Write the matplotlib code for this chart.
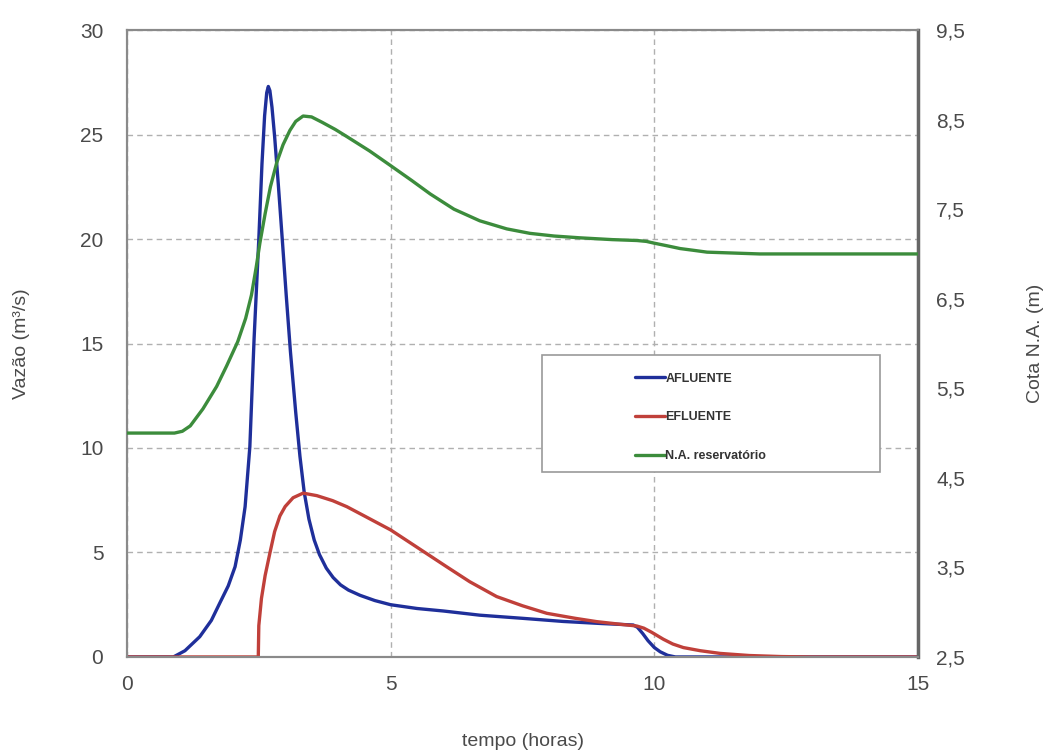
import matplotlib.pyplot as plt
from matplotlib.patches import Rectangle

plt.rcParams['font.family'] = ['Liberation Sans', 'DejaVu Sans']

# AFLUENTE (m3/s)
t_afl = [0, 0.88, 1.1, 1.38, 1.6, 1.76, 1.92, 2.05, 2.15, 2.24, 2.33, 2.41, 2.50, 2.56,
         2.61, 2.65, 2.68, 2.71, 2.75, 2.8, 2.87, 2.95, 3.02, 3.1, 3.2, 3.28, 3.36,
         3.45, 3.55, 3.65, 3.78, 3.91, 4.05, 4.2, 4.42, 4.7, 5.0, 5.5, 6.0,
         6.69, 7.5, 8.27, 9.0, 9.6, 9.68, 9.78, 9.88, 10.0, 10.11, 10.25, 10.4, 15]
q_afl = [0, 0, 0.3, 0.97, 1.75, 2.58, 3.4, 4.32, 5.6, 7.19, 10.06, 15.2, 20.0, 23.6,
         25.9, 27.0, 27.3, 27.1, 26.3, 24.9, 22.6, 19.8, 17.3, 14.6, 11.7, 9.6, 7.9,
         6.6, 5.6, 4.9, 4.25, 3.8, 3.45, 3.2, 2.95, 2.7, 2.5, 2.32, 2.2,
         2.0, 1.85, 1.7, 1.6, 1.53, 1.42, 1.12, 0.78, 0.45, 0.25, 0.08, 0, 0]

# EFLUENTE (m3/s)
t_efl = [0, 2.49, 2.5, 2.55, 2.62, 2.71, 2.8, 2.9, 3.0, 3.15, 3.34, 3.6, 3.9, 4.17,
         4.5, 5.0, 5.5, 6.06, 6.5, 7.01, 7.5, 7.96, 8.5, 8.91, 9.3, 9.67, 9.8, 9.95,
         10.17, 10.35, 10.55, 10.87, 11.25, 11.8, 12.4, 13, 15]
q_efl = [0, 0, 1.5, 2.8, 3.9, 4.97, 6.0, 6.75, 7.2, 7.62, 7.84, 7.72, 7.48, 7.19,
         6.75, 6.08, 5.25, 4.32, 3.6, 2.89, 2.45, 2.09, 1.85, 1.69, 1.58, 1.48, 1.38, 1.18,
         0.85, 0.62, 0.45, 0.3, 0.17, 0.07, 0.02, 0, 0]

# N.A. reservatorio (m)
t_na = [0, 0.9, 1.05, 1.2, 1.44, 1.7, 1.89, 2.1, 2.25, 2.36, 2.45, 2.52, 2.62, 2.72,
        2.84, 2.96, 3.09, 3.2, 3.34, 3.5, 3.7, 3.95, 4.17, 4.6, 4.99, 5.4, 5.75, 6.2,
        6.69, 7.2, 7.64, 8.1, 8.59, 9.2, 9.67, 9.85, 10.0, 10.25, 10.49, 10.75, 11.0,
        11.5, 12.0, 15]
na = [5.0, 5.0, 5.02, 5.08, 5.27, 5.52, 5.75, 6.02, 6.28, 6.54, 6.85, 7.12, 7.45, 7.75,
      8.02, 8.22, 8.38, 8.48, 8.54, 8.53, 8.47, 8.39, 8.31, 8.15, 7.99, 7.82, 7.67, 7.5,
      7.37, 7.28, 7.23, 7.2, 7.18, 7.16, 7.15, 7.14, 7.12, 7.09, 7.06, 7.04, 7.02,
      7.01, 7.0, 7.0]

x_ticks = [0, 5, 10, 15]
y_ticks = [0, 5, 10, 15, 20, 25, 30]
y2_ticks = [2.5, 3.5, 4.5, 5.5, 6.5, 7.5, 8.5, 9.5]

c_afl = '#1f2f9a'
c_efl = '#c0403a'
c_na = '#3c8c3c'
txt = '#4a4a4a'

fig = plt.figure(figsize=(10.45, 7.51), dpi=100)
ax = fig.add_axes([0.1215, 0.1252, 0.757, 0.8348])
ax2 = ax.twinx()

kw = dict(lw=2.4, solid_joinstyle='round', solid_capstyle='round', zorder=3)
ax.plot(t_afl, q_afl, color=c_afl, label='AFLUENTE', **kw)
ax.plot(t_efl, q_efl, color=c_efl, label='EFLUENTE', **kw)
ax2.plot(t_na, na, color=c_na, label='N.A. reservatório', **kw)

ax.set_xlim(0, 15)
ax.set_ylim(0, 30)
ax2.set_ylim(2.5, 9.5)
ax.set_xticks(x_ticks)
ax.set_yticks(y_ticks)
ax2.set_yticks(y2_ticks)
ax2.set_yticklabels([str(v).replace('.', ',') for v in y2_ticks])

ax.grid(True, color='#b0b0b0', ls=(0, (4, 3)), lw=1)
ax.tick_params(axis='x', length=0, pad=13, labelsize=15, labelcolor=txt)
ax.tick_params(axis='y', length=0, pad=17, labelsize=15, labelcolor=txt)
ax2.tick_params(axis='y', length=0, pad=13, labelsize=15, labelcolor=txt)

for a in (ax, ax2):
    for s in a.spines.values():
        s.set_color('#8a8a8a')
        s.set_linewidth(1.5)
ax2.spines['right'].set_color('#666666')
ax2.spines['right'].set_linewidth(2.5)

ax.set_xlabel('tempo (horas)', fontsize=14, color=txt, labelpad=28)
ax.set_ylabel('Vazão (m³/s)', fontsize=14, color=txt, labelpad=36)
ax2.set_ylabel('Cota N.A. (m)', fontsize=14, color=txt, labelpad=45)

# legend box
box = Rectangle((0.5246, 0.2954), 0.4273, 0.1866, transform=ax.transAxes,
                facecolor='white', edgecolor='#9a9a9a', lw=1.2, zorder=4)
ax2.add_patch(box)
h1, l1 = ax.get_legend_handles_labels()
h2, l2 = ax2.get_legend_handles_labels()
leg = ax2.legend(h1 + h2, l1 + l2, loc='center', bbox_to_anchor=(0.725, 0.382),
                 bbox_transform=ax.transAxes, frameon=False, fontsize=9,
                 handlelength=2.4, handletextpad=0.05, labelspacing=2.15)
leg.set_zorder(5)
for t in leg.get_texts():
    t.set_color('#333333')
    t.set_fontweight('bold')

fig.savefig('out.png', dpi=100)
